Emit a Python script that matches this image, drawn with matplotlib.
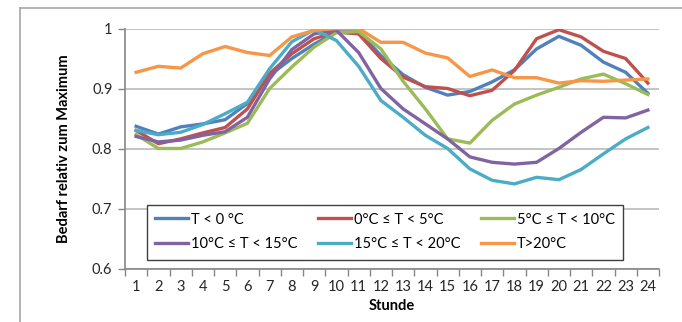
import matplotlib
matplotlib.use("Agg")
import matplotlib.pyplot as plt
from matplotlib.lines import Line2D
from matplotlib.ticker import FuncFormatter

plt.rcParams['font.family'] = ['Lato', 'DejaVu Sans']

stunden = list(range(1, 25))
labels = ['T < 0 °C', '0°C ≤ T < 5°C', '5°C ≤ T < 10°C',
          '10°C ≤ T < 15°C', '15°C ≤ T < 20°C', 'T>20°C']
farben = ['#4F81BD', '#C0504D', '#9BBB59', '#8064A2', '#4BACC6', '#F79646']

t_unter0 = [0.837, 0.824, 0.836, 0.841, 0.848, 0.875, 0.922, 0.950, 0.974, 0.994, 0.995, 0.955,
            0.923, 0.902, 0.889, 0.895, 0.911, 0.931, 0.966, 0.987, 0.972, 0.944, 0.927, 0.892]
t_0_5 = [0.830, 0.808, 0.816, 0.826, 0.835, 0.866, 0.925, 0.958, 0.983, 0.994, 0.991, 0.950,
         0.919, 0.903, 0.900, 0.888, 0.897, 0.930, 0.983, 0.998, 0.986, 0.962, 0.950, 0.909]
t_5_10 = [0.823, 0.800, 0.800, 0.811, 0.826, 0.842, 0.900, 0.936, 0.969, 0.993, 0.995, 0.966,
          0.912, 0.866, 0.816, 0.809, 0.847, 0.874, 0.889, 0.902, 0.916, 0.924, 0.908, 0.890]
t_10_15 = [0.820, 0.811, 0.814, 0.822, 0.828, 0.852, 0.916, 0.965, 0.991, 0.997, 0.960, 0.900,
           0.866, 0.841, 0.816, 0.786, 0.777, 0.774, 0.777, 0.800, 0.827, 0.852, 0.851, 0.864]
t_15_20 = [0.830, 0.823, 0.827, 0.840, 0.858, 0.877, 0.933, 0.978, 0.998, 0.980, 0.937, 0.880,
           0.852, 0.822, 0.800, 0.766, 0.747, 0.741, 0.752, 0.748, 0.765, 0.791, 0.816, 0.835]
t_ueber20 = [0.927, 0.937, 0.934, 0.958, 0.970, 0.960, 0.955, 0.986, 0.997, 1.000, 1.000, 0.977,
             0.977, 0.959, 0.951, 0.920, 0.931, 0.918, 0.918, 0.909, 0.913, 0.912, 0.914, 0.916]
reihen = [t_unter0, t_0_5, t_5_10, t_10_15, t_15_20, t_ueber20]

W, H = 682, 322
fig = plt.figure(figsize=(W / 100, H / 100), dpi=100)
ax = fig.add_axes([125 / W, 1 - 268.5 / H, (659 - 125) / W, (268.5 - 28.5) / H])

linien = []
for werte, lab, c in zip(reihen, labels, farben):
    l, = ax.plot(stunden, werte, color=c, lw=2.4, label=lab, solid_joinstyle='round')
    linien.append(l)

ax.set_xlim(0.5, 24.5)
ax.set_ylim(0.6, 1.0)
ax.set_xticks(stunden)
ax.set_xticks([h - 0.5 for h in stunden] + [24.5], minor=True)
ax.set_yticks([0.6, 0.7, 0.8, 0.9, 1.0])
ax.yaxis.set_major_formatter(FuncFormatter(lambda v, p: '1' if v == 1 else f'{v:.1f}'))
ax.tick_params(axis='x', which='major', length=0, pad=8, labelsize=10.5, colors='#262626')
ax.tick_params(axis='x', which='minor', length=5, color='#868686', width=1)
ax.tick_params(axis='y', length=5, width=1, labelsize=10.5, pad=4,
               colors='#868686', labelcolor='#262626')
ax.grid(axis='y', color='#BFBFBF', lw=1.3)
ax.set_axisbelow(True)
for s in ['top', 'right']:
    ax.spines[s].set_visible(False)
for s in ['left', 'bottom']:
    ax.spines[s].set_color('#868686')
    ax.spines[s].set_linewidth(1.2)

ax.set_ylabel('Bedarf relativ zum Maximum', fontsize=10.5, fontweight='bold', labelpad=15)
ax.set_xlabel('Stunde', fontsize=10.5, fontweight='bold', labelpad=4)

# legend fills row-wise like Excel
reihenfolge = [0, 3, 1, 4, 2, 5]
leg = ax.legend([linien[i] for i in reihenfolge], [labels[i] for i in reihenfolge],
                ncol=3, loc='lower left',
                bbox_to_anchor=(146.5 / W, 1 - 259.5 / H, (623 - 146.5) / W, (259.5 - 199) / H),
                bbox_transform=fig.transFigure, mode='expand', fancybox=False, framealpha=1,
                edgecolor='#404040', fontsize=10.5, handlelength=2.3, handletextpad=0.2,
                borderaxespad=0, borderpad=0.55, labelspacing=0.75, columnspacing=1.0)
leg.get_frame().set_linewidth(1.0)

fig.add_artist(Line2D([20 / W, 1], [1 - 8 / H, 1 - 8 / H], color='#A6A6A6', lw=1.2))
fig.add_artist(Line2D([20 / W, 20 / W], [0, 1 - 8 / H], color='#A6A6A6', lw=1.2))

fig.savefig('out.png', dpi=100)
